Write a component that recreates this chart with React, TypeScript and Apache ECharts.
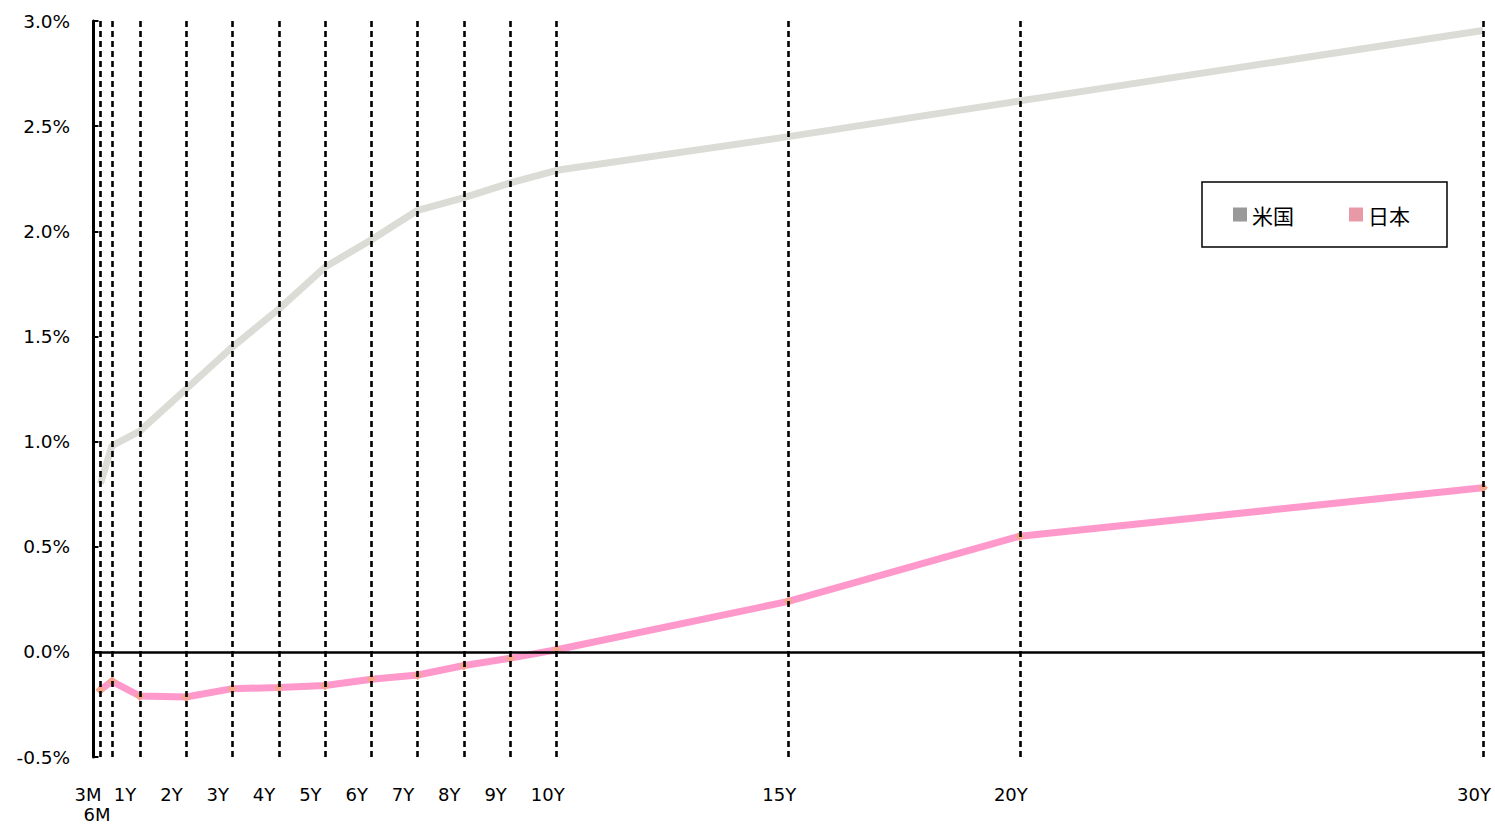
import React, { useEffect, useRef } from "react";
import * as echarts from "echarts";

// Tenors (label, position in years)
const TENOR_LABELS = ["3M", "6M", "1Y", "2Y", "3Y", "4Y", "5Y", "6Y", "7Y", "8Y", "9Y", "10Y", "15Y", "20Y", "30Y"];
const TENOR_YEARS = [0.15, 0.4, 1, 2, 3, 4, 5, 6, 7, 8, 9, 10, 15, 20, 30];

// Yields (%)
const US_YIELDS = [0.8, 0.98, 1.05, 1.25, 1.45, 1.63, 1.83, 1.96, 2.1, 2.16, 2.23, 2.29, 2.45, 2.62, 2.955];
const JP_YIELDS = [-0.18, -0.14, -0.21, -0.215, -0.175, -0.17, -0.16, -0.13, -0.11, -0.065, -0.03, 0.01, 0.24, 0.55, 0.78];

const SERIES_NAMES = ["米国", "日本"];
const Y_MIN = -0.5;
const Y_MAX = 3.0;
const Y_INTERVAL = 0.5;
const X_MIN = -0.6; // room on the left for the shifted tick labels
const X_MAX = 30;
const LABEL_SHIFT = 0.56; // tick labels sit left of their tenor line

const FONT = "DejaVu Sans";

export default function App() {
  const ref = useRef<HTMLDivElement>(null);

  useEffect(() => {
    document.body.style.margin = "0";
    if (!ref.current) return;
    const chart = echarts.init(ref.current, undefined, { renderer: "svg" });

    // 3M and 6M are stacked in one label (6M on a second line)
    const labelFor = (v: number) => {
      const i = TENOR_YEARS.findIndex((t) => Math.abs(t - v) < 1e-6);
      if (i < 0) return "";
      if (i === 0) return TENOR_LABELS[0] + "\n{s|" + TENOR_LABELS[1] + "}";
      if (i === 1) return "";
      return TENOR_LABELS[i];
    };

    chart.setOption({
      animation: false,
      backgroundColor: "#ffffff",
      grid: {
        left: 65.7,
        right: 12,
        top: 21,
        bottom: 68,
        containLabel: false,
        outerBoundsMode: "none",
      },
      legend: {
        data: [
          { name: SERIES_NAMES[0], itemStyle: { color: "#999999" } },
          { name: SERIES_NAMES[1], itemStyle: { color: "#e899a8" } },
        ],
        icon: "rect",
        itemWidth: 14,
        itemHeight: 14,
        itemGap: 55,
        left: 1202,
        top: 182,
        padding: [22, 37, 22, 31],
        borderColor: "#000",
        borderWidth: 1.5,
        borderRadius: 0,
        textStyle: { fontSize: 21, color: "#000", fontFamily: "Noto Sans CJK JP" },
      },
      xAxis: [
        {
          type: "value",
          min: X_MIN,
          max: X_MAX,
          axisLine: { show: false },
          axisTick: { show: false },
          axisLabel: { show: false },
          splitLine: { show: false },
        },
        {
          type: "value",
          min: X_MIN + LABEL_SHIFT,
          max: X_MAX + LABEL_SHIFT,
          position: "bottom",
          axisLine: { show: false, onZero: false },
          axisTick: { show: false },
          splitLine: { show: false },
          axisLabel: {
            customValues: TENOR_YEARS,
            formatter: (v: number) => labelFor(v),
            align: "left",
            margin: 27,
            fontSize: 18,
            lineHeight: 20,
            color: "#000",
            fontFamily: FONT,
            showMinLabel: true,
            showMaxLabel: true,
            hideOverlap: false,
            rich: {
              s: {
                fontSize: 18,
                lineHeight: 20,
                color: "#000",
                fontFamily: FONT,
                padding: [0, 0, 0, 9],
              },
            },
          },
        },
      ],
      yAxis: {
        type: "value",
        min: Y_MIN,
        max: Y_MAX,
        interval: Y_INTERVAL,
        axisLine: { show: true, onZero: true, onZeroAxisIndex: 0, lineStyle: { color: "#000", width: 3 } },
        axisTick: { show: true, inside: true, length: 5, lineStyle: { color: "#000", width: 2 } },
        splitLine: { show: false },
        axisLabel: {
          formatter: (v: number) => v.toFixed(1) + "%",
          fontSize: 18.5,
          color: "#000",
          fontFamily: FONT,
          margin: -4.5,
        },
      },
      series: [
        {
          name: "__guides",
          type: "line",
          data: [],
          z: 1,
          silent: true,
          markLine: {
            silent: true,
            symbol: ["none", "none"],
            label: { show: false },
            lineStyle: { color: "#000", width: 2.6, type: [6, 4] },
            emphasis: { disabled: true },
            data: [
              ...TENOR_YEARS.map((t) => ({ xAxis: t })),
              [
                { coord: [0, 0], lineStyle: { type: "solid", width: 2.5, color: "#000" } },
                { coord: [X_MAX, 0] },
              ],
            ],
          },
        },
        {
          name: SERIES_NAMES[0],
          type: "line",
          z: 3,
          data: TENOR_YEARS.map((t, i) => [t, US_YIELDS[i]]),
          symbol: "none",
          lineStyle: { color: "#dcdcd6", width: 7 },
          itemStyle: { color: "#dcdcd6" },
        },
        {
          name: SERIES_NAMES[1],
          type: "line",
          z: 4,
          data: TENOR_YEARS.map((t, i) => [t, JP_YIELDS[i]]),
          symbol: "diamond",
          symbolSize: 10,
          showAllSymbol: true,
          lineStyle: { color: "#ff99cc", width: 7 },
          itemStyle: { color: "#f6a48c", borderWidth: 0 },
        },
      ],
    });

    return () => chart.dispose();
  }, []);

  return <div ref={ref} style={{ width: 1495, height: 825 }} />;
}
